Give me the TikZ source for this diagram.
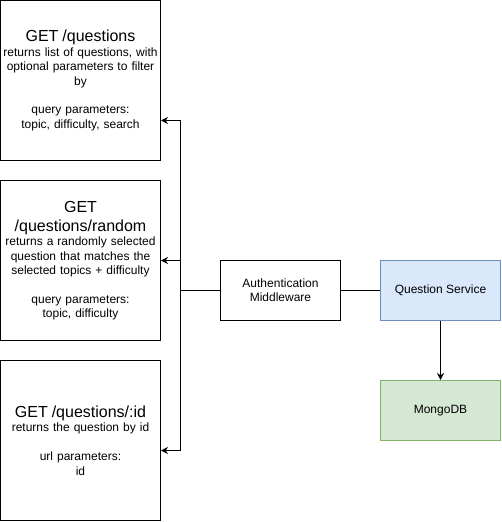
\documentclass[tikz,border=0pt]{standalone}
\usepackage{fontspec}
\setmainfont{Liberation Sans}
\usetikzlibrary{arrows.meta}
\definecolor{svcfill}{HTML}{DAE8FC}
\definecolor{svcline}{HTML}{6C8EBF}
\definecolor{dbfill}{HTML}{D5E8D4}
\definecolor{dbline}{HTML}{82B366}
\newcommand{\routetitle}[1]{{\fontsize{16}{19.2}\selectfont #1\par}}
\begin{document}
\begin{tikzpicture}[x=1pt,y=-1pt,line width=1pt,
	endpoint/.style={rectangle, draw, minimum width=160pt, minimum height=160pt, text width=158pt, align=center, inner sep=0pt, font=\fontsize{12}{14.4}\selectfont},
	unit/.style={rectangle, draw, minimum width=120pt, minimum height=60pt, align=center, inner sep=0pt, font=\fontsize{12}{14.4}\selectfont},
	link/.style={-{Stealth[length=7pt,width=7pt]}}]
	\useasboundingbox (0,0) rectangle (501,522);
	\node (Q1) at ( 80.5,  80.5)	[endpoint]	{\routetitle{GET /questions}returns list of questions, with\\optional parameters to filter\\by\\[14.4pt]query parameters:\\topic, difficulty, search};
	\node (Q2) at ( 80.5, 260.5)	[endpoint]	{\routetitle{GET\\/questions/random}returns a randomly selected\\question that matches the\\selected topics + difficulty\\[14.4pt]query parameters:\\topic, difficulty};
	\node (Q3) at ( 80.5, 440.5)	[endpoint]	{\routetitle{GET /questions/:id}returns the question by id\\[14.4pt]url parameters:\\id};
	\node (Auth) at (280.5, 290.5)	[unit]	{Authentication\\Middleware};
	\node (Svc) at (440.5, 290.5)	[unit, draw=svcline, fill=svcfill]	{Question Service};
	\node (Db) at (440.5, 410.5)	[unit, draw=dbline, fill=dbfill]	{MongoDB};
	\coordinate (split) at (180.5, 290.5);
	\draw[link] (Auth.west) -- (split) |- ([yshift=-40pt]Q1.east);
	\draw[link] (Auth.west) -- (split) |- (Q2.east);
	\draw[link] (Auth.west) -- (split) |- ([yshift=-10pt]Q3.east);
	\draw (Auth) -- (Svc);
	\draw[link] (Svc) -- (Db);
\end{tikzpicture}
\end{document}
